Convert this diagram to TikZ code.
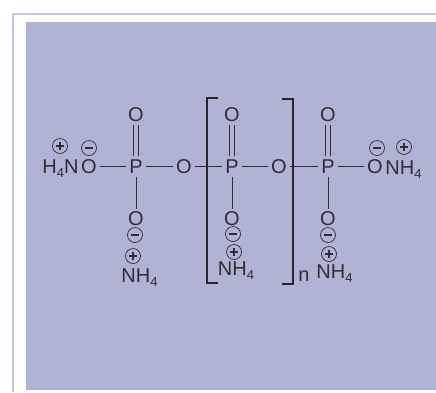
\documentclass[tikz,border=0pt]{standalone}
\usepackage{fontspec}
\setmainfont{Liberation Sans}
\usepackage{tikz}
\usetikzlibrary{positioning}
\definecolor{panelblue}{HTML}{B0B3D3}
\definecolor{framelilac}{HTML}{C2C4E0}
\definecolor{inkgrey}{HTML}{2E2E33}
\newcommand{\subfour}{\raisebox{-0.2em}{\fontsize{13pt}{13pt}\selectfont 4}}
\tikzset{
	atom/.style={text=inkgrey, font=\fontsize{20pt}{20pt}\selectfont, inner sep=3pt},
	charge/.style={circle, draw=inkgrey, line width=0.7pt, minimum size=15pt, inner sep=0pt},
	bond/.style={draw=inkgrey, line width=1pt},
	bracket/.style={draw=black!85, line width=1.3pt}
}
\begin{document}
\begin{tikzpicture}[x=1pt, y=-1pt]
	% Background:
	\useasboundingbox (0, 0) rectangle (436, 392);
	\fill[white] (0, 0) rectangle (436, 392);
	\draw[framelilac, line width=2.2pt] (436, 13.8) -- (12.9, 13.8) -- (12.9, 392);
	\fill[panelblue] (26, 22) rectangle (436, 390);

	% Atoms:
	\node[atom] (h4n) at (60.5, 169) {H\subfour N};
	\node[atom] (o1) at (89, 166.5) {O};
	\node[atom] (p1) at (136, 166.5) {P};
	\node[atom] (o1top) at (136, 115) {O};
	\node[atom] (o1low) at (136, 219) {O};
	\node[atom] (o2) at (184, 166.5) {O};
	\node[atom] (p2) at (232, 166.5) {P};
	\node[atom] (o2top) at (232, 115) {O};
	\node[atom] (o2low) at (232, 219) {O};
	\node[atom] (o3) at (279, 166.5) {O};
	\node[atom] (p3) at (328, 166.5) {P};
	\node[atom] (o3top) at (328, 115) {O};
	\node[atom] (o3low) at (328, 219) {O};
	\node[atom] (o4) at (375, 166.5) {O};
	\node[atom] (nh4r) at (403.5, 170) {NH\subfour};
	\node[atom] (nh4a) at (139.5, 278) {NH\subfour};
	\node[atom] (nh4b) at (236, 270.5) {NH\subfour};
	\node[atom] (nh4c) at (334.5, 273.5) {NH\subfour};
	\node[atom] (n) at (304, 276) {n};

	% Charges:
	\node[charge] (plus1) at (60, 146) {};
	\node[charge] (minus1) at (89, 148) {};
	\node[charge] (minus2) at (135, 235) {};
	\node[charge] (plus2) at (133, 256) {};
	\node[charge] (minus3) at (233, 234) {};
	\node[charge] (plus3) at (234, 252) {};
	\node[charge] (minus4) at (328, 235) {};
	\node[charge] (plus4) at (329, 254) {};
	\node[charge] (minus5) at (377, 148) {};
	\node[charge] (plus5) at (404, 147) {};
	\foreach \c in {plus1, plus2, plus3, plus4, plus5, minus1, minus2, minus3, minus4, minus5}
		\draw[inkgrey, line width=1.2pt] ([xshift=-4pt]\c.center) -- ([xshift=4pt]\c.center);
	\foreach \c in {plus1, plus2, plus3, plus4, plus5}
		\draw[inkgrey, line width=1.2pt] ([yshift=-4pt]\c.center) -- ([yshift=4pt]\c.center);

	% Bonds:
	\draw[bond] (o1) -- (p1);
	\draw[bond] (p1) -- (o2);
	\draw[bond] (o2) -- (p2);
	\draw[bond] (p2) -- (o3);
	\draw[bond] (o3) -- (p3);
	\draw[bond] (p3) -- (o4);
	\draw[bond] (p1) -- (o1low);
	\draw[bond] (p2) -- (o2low);
	\draw[bond] (p3) -- (o3low);
	\foreach \p/\o in {p1/o1top, p2/o2top, p3/o3top} {
		\draw[bond] ([xshift=-2.5pt]\p.north) -- ([xshift=-2.5pt]\o.south);
		\draw[bond] ([xshift=2.5pt]\p.north) -- ([xshift=2.5pt]\o.south);
	}

	% Brackets:
	\coordinate (bl) at (207, 98);
	\coordinate (br) at (293, 99);
	\draw[bracket] ([xshift=11pt]bl) -- (bl) -- ++(0, 185) -- ++(11, 0);
	\draw[bracket] ([xshift=-11pt]br) -- (br) -- ++(0, 185) -- ++(-11, 0);
\end{tikzpicture}
\end{document}
